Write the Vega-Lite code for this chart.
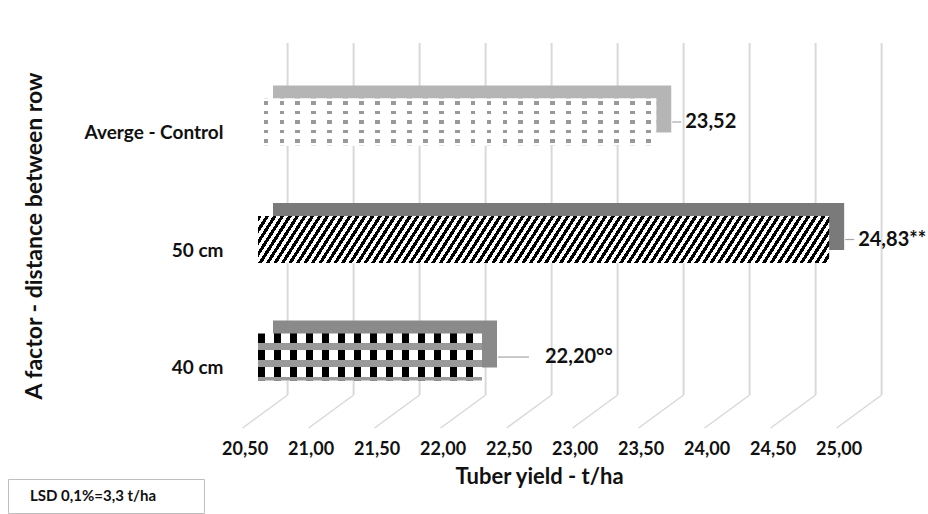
{
  "$schema": "https://vega.github.io/schema/vega-lite/v6.json",
  "width": 627,
  "height": 385,
  "autosize": "none",
  "padding": {"left": 258, "top": 43, "right": 43, "bottom": 86},
  "background": "white",
  "config": {"view": {"stroke": null}, "font": "Lato", "axis": {"labelFont": "Lato", "titleFont": "Lato"}, "legend": {"labelFont": "Lato"}},
  "resolve": {"scale": {"y": "independent"}, "axis": {"y": "independent"}},
  "layer": [
    {
      "data": {"values": [{"t": 20.5}, {"t": 21}, {"t": 21.5}, {"t": 22}, {"t": 22.5}, {"t": 23}, {"t": 23.5}, {"t": 24}, {"t": 24.5}, {"t": 25}]},
      "layer": [
        {
          "mark": {"type": "rule", "xOffset": 23, "color": "#d9d9d9", "strokeWidth": 2},
          "encoding": {
            "x": {"field": "t", "type": "quantitative", "title": "Tuber yield - t/ha",
              "scale": {"domain": [20.45, 25.2], "nice": false, "zero": false},
              "axis": {"values": [20.5, 21, 21.5, 22, 22.5, 23, 23.5, 24, 24.5, 25],
                "labelExpr": "replace(format(datum.value, '.2f'), '.', ',')",
                "labelOffset": -20, "labelPadding": 12, "labelFontSize": 18, "labelFontWeight": "bold", "labelColor": "#111",
                "labelFlush": false, "labelOverlap": false, "labelBound": false,
                "ticks": false, "domain": false, "grid": false,
                "title": "Tuber yield - t/ha", "titleFontSize": 22, "titleFontWeight": "bold", "titleColor": "#111", "titleX": 281, "titlePadding": 8}},
            "y": {"datum": 0.0857, "type": "quantitative", "scale": {"domain": [0, 1], "nice": false, "zero": false}, "axis": null},
            "y2": {"datum": 1}
          }
        },
        {
          "mark": {"type": "rule", "xOffset": -22, "x2Offset": 23, "color": "#d9d9d9", "strokeWidth": 1.5},
          "encoding": {
            "x": {"field": "t", "type": "quantitative", "title": "Tuber yield - t/ha", "scale": {"domain": [20.45, 25.2], "nice": false, "zero": false}},
            "x2": {"field": "t"},
            "y": {"datum": 0, "type": "quantitative", "scale": {"domain": [0, 1], "nice": false, "zero": false}, "axis": null},
            "y2": {"datum": 0.0857}
          }
        }
      ]
    },
    {
      "data": {"values": [
        {"cat": "Averge - Control", "value": 23.52, "label": "23,52"},
        {"cat": "50 cm", "value": 24.83, "label": "24,83**"},
        {"cat": "40 cm", "value": 22.2, "label": "22,20°°"}
      ]},
      "layer": [
        {
          "mark": {"type": "bar", "xOffset": 8, "x2Offset": 15, "yOffset": -13, "y2Offset": -13},
          "encoding": {
            "y": {"field": "cat", "type": "nominal", "sort": null, "scale": {"domain": ["Averge - Control", "50 cm", "40 cm"], "paddingInner": 0.6, "paddingOuter": 0.438, "align": 0.539},
              "axis": {"title": "A factor - distance between row", "titleFontSize": 23, "titleFontWeight": "bold", "titleColor": "#111", "titlePadding": 38,
                "labelFontSize": 19, "labelFontWeight": "bold", "labelColor": "#111", "labelPadding": 35, "labelOffset": 11, "ticks": false, "domain": false, "grid": false}},
            "x": {"field": "value", "type": "quantitative", "title": "Tuber yield - t/ha", "scale": {"domain": [20.45, 25.2], "nice": false, "zero": false}},
            "x2": {"datum": 20.45},
            "fill": {"condition": [{"test": "datum.cat === '50 cm'", "value": "#7a7a7a"}, {"test": "datum.cat === '40 cm'", "value": "#8a8a8a"}], "value": "#b5b5b5"}
          }
        },
        {
          "mark": {"type": "bar", "xOffset": -7},
          "encoding": {
            "y": {"field": "cat", "type": "nominal", "sort": null, "scale": {"domain": ["Averge - Control", "50 cm", "40 cm"], "paddingInner": 0.6, "paddingOuter": 0.438, "align": 0.539}},
            "x": {"field": "value", "type": "quantitative", "title": "Tuber yield - t/ha", "scale": {"domain": [20.45, 25.2], "nice": false, "zero": false}},
            "x2": {"datum": 20.45},
            "fill": {"condition": [
              {"test": "datum.cat === '50 cm'", "value": {"gradient": "linear", "x1": 0, "y1": 0, "x2": 1.05, "y2": 0.055, "stops": [
{"offset":0,"color":"#000"},
{"offset":0.00625,"color":"#000"},{"offset":0.00625,"color":"#fff"},{"offset":0.0125,"color":"#fff"},{"offset":0.0125,"color":"#000"},
{"offset":0.01875,"color":"#000"},{"offset":0.01875,"color":"#fff"},{"offset":0.025,"color":"#fff"},{"offset":0.025,"color":"#000"},
{"offset":0.03125,"color":"#000"},{"offset":0.03125,"color":"#fff"},{"offset":0.0375,"color":"#fff"},{"offset":0.0375,"color":"#000"},
{"offset":0.04375,"color":"#000"},{"offset":0.04375,"color":"#fff"},{"offset":0.05,"color":"#fff"},{"offset":0.05,"color":"#000"},
{"offset":0.05625,"color":"#000"},{"offset":0.05625,"color":"#fff"},{"offset":0.0625,"color":"#fff"},{"offset":0.0625,"color":"#000"},
{"offset":0.06875,"color":"#000"},{"offset":0.06875,"color":"#fff"},{"offset":0.075,"color":"#fff"},{"offset":0.075,"color":"#000"},
{"offset":0.08125,"color":"#000"},{"offset":0.08125,"color":"#fff"},{"offset":0.0875,"color":"#fff"},{"offset":0.0875,"color":"#000"},
{"offset":0.09375,"color":"#000"},{"offset":0.09375,"color":"#fff"},{"offset":0.1,"color":"#fff"},{"offset":0.1,"color":"#000"},
{"offset":0.10625,"color":"#000"},{"offset":0.10625,"color":"#fff"},{"offset":0.1125,"color":"#fff"},{"offset":0.1125,"color":"#000"},
{"offset":0.11875,"color":"#000"},{"offset":0.11875,"color":"#fff"},{"offset":0.125,"color":"#fff"},{"offset":0.125,"color":"#000"},
{"offset":0.13125,"color":"#000"},{"offset":0.13125,"color":"#fff"},{"offset":0.1375,"color":"#fff"},{"offset":0.1375,"color":"#000"},
{"offset":0.14375,"color":"#000"},{"offset":0.14375,"color":"#fff"},{"offset":0.15,"color":"#fff"},{"offset":0.15,"color":"#000"},
{"offset":0.15625,"color":"#000"},{"offset":0.15625,"color":"#fff"},{"offset":0.1625,"color":"#fff"},{"offset":0.1625,"color":"#000"},
{"offset":0.16875,"color":"#000"},{"offset":0.16875,"color":"#fff"},{"offset":0.175,"color":"#fff"},{"offset":0.175,"color":"#000"},
{"offset":0.18125,"color":"#000"},{"offset":0.18125,"color":"#fff"},{"offset":0.1875,"color":"#fff"},{"offset":0.1875,"color":"#000"},
{"offset":0.19375,"color":"#000"},{"offset":0.19375,"color":"#fff"},{"offset":0.2,"color":"#fff"},{"offset":0.2,"color":"#000"},
{"offset":0.20625,"color":"#000"},{"offset":0.20625,"color":"#fff"},{"offset":0.2125,"color":"#fff"},{"offset":0.2125,"color":"#000"},
{"offset":0.21875,"color":"#000"},{"offset":0.21875,"color":"#fff"},{"offset":0.225,"color":"#fff"},{"offset":0.225,"color":"#000"},
{"offset":0.23125,"color":"#000"},{"offset":0.23125,"color":"#fff"},{"offset":0.2375,"color":"#fff"},{"offset":0.2375,"color":"#000"},
{"offset":0.24375,"color":"#000"},{"offset":0.24375,"color":"#fff"},{"offset":0.25,"color":"#fff"},{"offset":0.25,"color":"#000"},
{"offset":0.25625,"color":"#000"},{"offset":0.25625,"color":"#fff"},{"offset":0.2625,"color":"#fff"},{"offset":0.2625,"color":"#000"},
{"offset":0.26875,"color":"#000"},{"offset":0.26875,"color":"#fff"},{"offset":0.275,"color":"#fff"},{"offset":0.275,"color":"#000"},
{"offset":0.28125,"color":"#000"},{"offset":0.28125,"color":"#fff"},{"offset":0.2875,"color":"#fff"},{"offset":0.2875,"color":"#000"},
{"offset":0.29375,"color":"#000"},{"offset":0.29375,"color":"#fff"},{"offset":0.3,"color":"#fff"},{"offset":0.3,"color":"#000"},
{"offset":0.30625,"color":"#000"},{"offset":0.30625,"color":"#fff"},{"offset":0.3125,"color":"#fff"},{"offset":0.3125,"color":"#000"},
{"offset":0.31875,"color":"#000"},{"offset":0.31875,"color":"#fff"},{"offset":0.325,"color":"#fff"},{"offset":0.325,"color":"#000"},
{"offset":0.33125,"color":"#000"},{"offset":0.33125,"color":"#fff"},{"offset":0.3375,"color":"#fff"},{"offset":0.3375,"color":"#000"},
{"offset":0.34375,"color":"#000"},{"offset":0.34375,"color":"#fff"},{"offset":0.35,"color":"#fff"},{"offset":0.35,"color":"#000"},
{"offset":0.35625,"color":"#000"},{"offset":0.35625,"color":"#fff"},{"offset":0.3625,"color":"#fff"},{"offset":0.3625,"color":"#000"},
{"offset":0.36875,"color":"#000"},{"offset":0.36875,"color":"#fff"},{"offset":0.375,"color":"#fff"},{"offset":0.375,"color":"#000"},
{"offset":0.38125,"color":"#000"},{"offset":0.38125,"color":"#fff"},{"offset":0.3875,"color":"#fff"},{"offset":0.3875,"color":"#000"},
{"offset":0.39375,"color":"#000"},{"offset":0.39375,"color":"#fff"},{"offset":0.4,"color":"#fff"},{"offset":0.4,"color":"#000"},
{"offset":0.40625,"color":"#000"},{"offset":0.40625,"color":"#fff"},{"offset":0.4125,"color":"#fff"},{"offset":0.4125,"color":"#000"},
{"offset":0.41875,"color":"#000"},{"offset":0.41875,"color":"#fff"},{"offset":0.425,"color":"#fff"},{"offset":0.425,"color":"#000"},
{"offset":0.43125,"color":"#000"},{"offset":0.43125,"color":"#fff"},{"offset":0.4375,"color":"#fff"},{"offset":0.4375,"color":"#000"},
{"offset":0.44375,"color":"#000"},{"offset":0.44375,"color":"#fff"},{"offset":0.45,"color":"#fff"},{"offset":0.45,"color":"#000"},
{"offset":0.45625,"color":"#000"},{"offset":0.45625,"color":"#fff"},{"offset":0.4625,"color":"#fff"},{"offset":0.4625,"color":"#000"},
{"offset":0.46875,"color":"#000"},{"offset":0.46875,"color":"#fff"},{"offset":0.475,"color":"#fff"},{"offset":0.475,"color":"#000"},
{"offset":0.48125,"color":"#000"},{"offset":0.48125,"color":"#fff"},{"offset":0.4875,"color":"#fff"},{"offset":0.4875,"color":"#000"},
{"offset":0.49375,"color":"#000"},{"offset":0.49375,"color":"#fff"},{"offset":0.5,"color":"#fff"},{"offset":0.5,"color":"#000"},
{"offset":0.50625,"color":"#000"},{"offset":0.50625,"color":"#fff"},{"offset":0.5125,"color":"#fff"},{"offset":0.5125,"color":"#000"},
{"offset":0.51875,"color":"#000"},{"offset":0.51875,"color":"#fff"},{"offset":0.525,"color":"#fff"},{"offset":0.525,"color":"#000"},
{"offset":0.53125,"color":"#000"},{"offset":0.53125,"color":"#fff"},{"offset":0.5375,"color":"#fff"},{"offset":0.5375,"color":"#000"},
{"offset":0.54375,"color":"#000"},{"offset":0.54375,"color":"#fff"},{"offset":0.55,"color":"#fff"},{"offset":0.55,"color":"#000"},
{"offset":0.55625,"color":"#000"},{"offset":0.55625,"color":"#fff"},{"offset":0.5625,"color":"#fff"},{"offset":0.5625,"color":"#000"},
{"offset":0.56875,"color":"#000"},{"offset":0.56875,"color":"#fff"},{"offset":0.575,"color":"#fff"},{"offset":0.575,"color":"#000"},
{"offset":0.58125,"color":"#000"},{"offset":0.58125,"color":"#fff"},{"offset":0.5875,"color":"#fff"},{"offset":0.5875,"color":"#000"},
{"offset":0.59375,"color":"#000"},{"offset":0.59375,"color":"#fff"},{"offset":0.6,"color":"#fff"},{"offset":0.6,"color":"#000"},
{"offset":0.60625,"color":"#000"},{"offset":0.60625,"color":"#fff"},{"offset":0.6125,"color":"#fff"},{"offset":0.6125,"color":"#000"},
{"offset":0.61875,"color":"#000"},{"offset":0.61875,"color":"#fff"},{"offset":0.625,"color":"#fff"},{"offset":0.625,"color":"#000"},
{"offset":0.63125,"color":"#000"},{"offset":0.63125,"color":"#fff"},{"offset":0.6375,"color":"#fff"},{"offset":0.6375,"color":"#000"},
{"offset":0.64375,"color":"#000"},{"offset":0.64375,"color":"#fff"},{"offset":0.65,"color":"#fff"},{"offset":0.65,"color":"#000"},
{"offset":0.65625,"color":"#000"},{"offset":0.65625,"color":"#fff"},{"offset":0.6625,"color":"#fff"},{"offset":0.6625,"color":"#000"},
{"offset":0.66875,"color":"#000"},{"offset":0.66875,"color":"#fff"},{"offset":0.675,"color":"#fff"},{"offset":0.675,"color":"#000"},
{"offset":0.68125,"color":"#000"},{"offset":0.68125,"color":"#fff"},{"offset":0.6875,"color":"#fff"},{"offset":0.6875,"color":"#000"},
{"offset":0.69375,"color":"#000"},{"offset":0.69375,"color":"#fff"},{"offset":0.7,"color":"#fff"},{"offset":0.7,"color":"#000"},
{"offset":0.70625,"color":"#000"},{"offset":0.70625,"color":"#fff"},{"offset":0.7125,"color":"#fff"},{"offset":0.7125,"color":"#000"},
{"offset":0.71875,"color":"#000"},{"offset":0.71875,"color":"#fff"},{"offset":0.725,"color":"#fff"},{"offset":0.725,"color":"#000"},
{"offset":0.73125,"color":"#000"},{"offset":0.73125,"color":"#fff"},{"offset":0.7375,"color":"#fff"},{"offset":0.7375,"color":"#000"},
{"offset":0.74375,"color":"#000"},{"offset":0.74375,"color":"#fff"},{"offset":0.75,"color":"#fff"},{"offset":0.75,"color":"#000"},
{"offset":0.75625,"color":"#000"},{"offset":0.75625,"color":"#fff"},{"offset":0.7625,"color":"#fff"},{"offset":0.7625,"color":"#000"},
{"offset":0.76875,"color":"#000"},{"offset":0.76875,"color":"#fff"},{"offset":0.775,"color":"#fff"},{"offset":0.775,"color":"#000"},
{"offset":0.78125,"color":"#000"},{"offset":0.78125,"color":"#fff"},{"offset":0.7875,"color":"#fff"},{"offset":0.7875,"color":"#000"},
{"offset":0.79375,"color":"#000"},{"offset":0.79375,"color":"#fff"},{"offset":0.8,"color":"#fff"},{"offset":0.8,"color":"#000"},
{"offset":0.80625,"color":"#000"},{"offset":0.80625,"color":"#fff"},{"offset":0.8125,"color":"#fff"},{"offset":0.8125,"color":"#000"},
{"offset":0.81875,"color":"#000"},{"offset":0.81875,"color":"#fff"},{"offset":0.825,"color":"#fff"},{"offset":0.825,"color":"#000"},
{"offset":0.83125,"color":"#000"},{"offset":0.83125,"color":"#fff"},{"offset":0.8375,"color":"#fff"},{"offset":0.8375,"color":"#000"},
{"offset":0.84375,"color":"#000"},{"offset":0.84375,"color":"#fff"},{"offset":0.85,"color":"#fff"},{"offset":0.85,"color":"#000"},
{"offset":0.85625,"color":"#000"},{"offset":0.85625,"color":"#fff"},{"offset":0.8625,"color":"#fff"},{"offset":0.8625,"color":"#000"},
{"offset":0.86875,"color":"#000"},{"offset":0.86875,"color":"#fff"},{"offset":0.875,"color":"#fff"},{"offset":0.875,"color":"#000"},
{"offset":0.88125,"color":"#000"},{"offset":0.88125,"color":"#fff"},{"offset":0.8875,"color":"#fff"},{"offset":0.8875,"color":"#000"},
{"offset":0.89375,"color":"#000"},{"offset":0.89375,"color":"#fff"},{"offset":0.9,"color":"#fff"},{"offset":0.9,"color":"#000"},
{"offset":0.90625,"color":"#000"},{"offset":0.90625,"color":"#fff"},{"offset":0.9125,"color":"#fff"},{"offset":0.9125,"color":"#000"},
{"offset":0.91875,"color":"#000"},{"offset":0.91875,"color":"#fff"},{"offset":0.925,"color":"#fff"},{"offset":0.925,"color":"#000"},
{"offset":0.93125,"color":"#000"},{"offset":0.93125,"color":"#fff"},{"offset":0.9375,"color":"#fff"},{"offset":0.9375,"color":"#000"},
{"offset":0.94375,"color":"#000"},{"offset":0.94375,"color":"#fff"},{"offset":0.95,"color":"#fff"},{"offset":0.95,"color":"#000"},
{"offset":0.95625,"color":"#000"},{"offset":0.95625,"color":"#fff"},{"offset":0.9625,"color":"#fff"},{"offset":0.9625,"color":"#000"},
{"offset":0.96875,"color":"#000"},{"offset":0.96875,"color":"#fff"},{"offset":0.975,"color":"#fff"},{"offset":0.975,"color":"#000"},
{"offset":0.98125,"color":"#000"},{"offset":0.98125,"color":"#fff"},{"offset":0.9875,"color":"#fff"},{"offset":0.9875,"color":"#000"},
{"offset":0.99375,"color":"#000"},{"offset":0.99375,"color":"#fff"},{"offset":1,"color":"#fff"}
              ]}},
              {"test": "datum.cat === '40 cm'", "value": {"gradient": "linear", "x1": 0, "y1": 0, "x2": 1, "y2": 0, "stops": [
{"offset":0,"color":"#000"},{"offset":0.0321,"color":"#000"},{"offset":0.0321,"color":"#fff"},{"offset":0.0714,"color":"#fff"},
{"offset":0.0714,"color":"#000"},{"offset":0.1036,"color":"#000"},{"offset":0.1036,"color":"#fff"},{"offset":0.1429,"color":"#fff"},
{"offset":0.1429,"color":"#000"},{"offset":0.175,"color":"#000"},{"offset":0.175,"color":"#fff"},{"offset":0.2143,"color":"#fff"},
{"offset":0.2143,"color":"#000"},{"offset":0.2464,"color":"#000"},{"offset":0.2464,"color":"#fff"},{"offset":0.2857,"color":"#fff"},
{"offset":0.2857,"color":"#000"},{"offset":0.3179,"color":"#000"},{"offset":0.3179,"color":"#fff"},{"offset":0.3571,"color":"#fff"},
{"offset":0.3571,"color":"#000"},{"offset":0.3893,"color":"#000"},{"offset":0.3893,"color":"#fff"},{"offset":0.4286,"color":"#fff"},
{"offset":0.4286,"color":"#000"},{"offset":0.4607,"color":"#000"},{"offset":0.4607,"color":"#fff"},{"offset":0.5,"color":"#fff"},
{"offset":0.5,"color":"#000"},{"offset":0.5321,"color":"#000"},{"offset":0.5321,"color":"#fff"},{"offset":0.5714,"color":"#fff"},
{"offset":0.5714,"color":"#000"},{"offset":0.6036,"color":"#000"},{"offset":0.6036,"color":"#fff"},{"offset":0.6429,"color":"#fff"},
{"offset":0.6429,"color":"#000"},{"offset":0.675,"color":"#000"},{"offset":0.675,"color":"#fff"},{"offset":0.7143,"color":"#fff"},
{"offset":0.7143,"color":"#000"},{"offset":0.7464,"color":"#000"},{"offset":0.7464,"color":"#fff"},{"offset":0.7857,"color":"#fff"},
{"offset":0.7857,"color":"#000"},{"offset":0.8179,"color":"#000"},{"offset":0.8179,"color":"#fff"},{"offset":0.8571,"color":"#fff"},
{"offset":0.8571,"color":"#000"},{"offset":0.8893,"color":"#000"},{"offset":0.8893,"color":"#fff"},{"offset":0.9286,"color":"#fff"},
{"offset":0.9286,"color":"#000"},{"offset":0.9607,"color":"#000"},{"offset":0.9607,"color":"#fff"},{"offset":1,"color":"#fff"}
              ]}}
            ],
            "value": {"gradient": "linear", "x1": 0, "y1": 0, "x2": 1, "y2": 0, "stops": [
{"offset":0,"color":"#fff"},
{"offset":0.014,"color":"#fff"},{"offset":0.014,"color":"#999"},{"offset":0.026,"color":"#999"},{"offset":0.026,"color":"#fff"},
{"offset":0.054,"color":"#fff"},{"offset":0.054,"color":"#999"},{"offset":0.066,"color":"#999"},{"offset":0.066,"color":"#fff"},
{"offset":0.094,"color":"#fff"},{"offset":0.094,"color":"#999"},{"offset":0.106,"color":"#999"},{"offset":0.106,"color":"#fff"},
{"offset":0.134,"color":"#fff"},{"offset":0.134,"color":"#999"},{"offset":0.146,"color":"#999"},{"offset":0.146,"color":"#fff"},
{"offset":0.174,"color":"#fff"},{"offset":0.174,"color":"#999"},{"offset":0.186,"color":"#999"},{"offset":0.186,"color":"#fff"},
{"offset":0.214,"color":"#fff"},{"offset":0.214,"color":"#999"},{"offset":0.226,"color":"#999"},{"offset":0.226,"color":"#fff"},
{"offset":0.254,"color":"#fff"},{"offset":0.254,"color":"#999"},{"offset":0.266,"color":"#999"},{"offset":0.266,"color":"#fff"},
{"offset":0.294,"color":"#fff"},{"offset":0.294,"color":"#999"},{"offset":0.306,"color":"#999"},{"offset":0.306,"color":"#fff"},
{"offset":0.334,"color":"#fff"},{"offset":0.334,"color":"#999"},{"offset":0.346,"color":"#999"},{"offset":0.346,"color":"#fff"},
{"offset":0.374,"color":"#fff"},{"offset":0.374,"color":"#999"},{"offset":0.386,"color":"#999"},{"offset":0.386,"color":"#fff"},
{"offset":0.414,"color":"#fff"},{"offset":0.414,"color":"#999"},{"offset":0.426,"color":"#999"},{"offset":0.426,"color":"#fff"},
{"offset":0.454,"color":"#fff"},{"offset":0.454,"color":"#999"},{"offset":0.466,"color":"#999"},{"offset":0.466,"color":"#fff"},
{"offset":0.494,"color":"#fff"},{"offset":0.494,"color":"#999"},{"offset":0.506,"color":"#999"},{"offset":0.506,"color":"#fff"},
{"offset":0.534,"color":"#fff"},{"offset":0.534,"color":"#999"},{"offset":0.546,"color":"#999"},{"offset":0.546,"color":"#fff"},
{"offset":0.574,"color":"#fff"},{"offset":0.574,"color":"#999"},{"offset":0.586,"color":"#999"},{"offset":0.586,"color":"#fff"},
{"offset":0.614,"color":"#fff"},{"offset":0.614,"color":"#999"},{"offset":0.626,"color":"#999"},{"offset":0.626,"color":"#fff"},
{"offset":0.654,"color":"#fff"},{"offset":0.654,"color":"#999"},{"offset":0.666,"color":"#999"},{"offset":0.666,"color":"#fff"},
{"offset":0.694,"color":"#fff"},{"offset":0.694,"color":"#999"},{"offset":0.706,"color":"#999"},{"offset":0.706,"color":"#fff"},
{"offset":0.734,"color":"#fff"},{"offset":0.734,"color":"#999"},{"offset":0.746,"color":"#999"},{"offset":0.746,"color":"#fff"},
{"offset":0.774,"color":"#fff"},{"offset":0.774,"color":"#999"},{"offset":0.786,"color":"#999"},{"offset":0.786,"color":"#fff"},
{"offset":0.814,"color":"#fff"},{"offset":0.814,"color":"#999"},{"offset":0.826,"color":"#999"},{"offset":0.826,"color":"#fff"},
{"offset":0.854,"color":"#fff"},{"offset":0.854,"color":"#999"},{"offset":0.866,"color":"#999"},{"offset":0.866,"color":"#fff"},
{"offset":0.894,"color":"#fff"},{"offset":0.894,"color":"#999"},{"offset":0.906,"color":"#999"},{"offset":0.906,"color":"#fff"},
{"offset":0.934,"color":"#fff"},{"offset":0.934,"color":"#999"},{"offset":0.946,"color":"#999"},{"offset":0.946,"color":"#fff"},
{"offset":0.974,"color":"#fff"},{"offset":0.974,"color":"#999"},{"offset":0.986,"color":"#999"},{"offset":0.986,"color":"#fff"},
{"offset":1,"color":"#fff"}
            ]}}
          }
        },
        {
          "mark": {"type": "bar", "xOffset": -7},
          "encoding": {
            "y": {"field": "cat", "type": "nominal", "sort": null, "scale": {"domain": ["Averge - Control", "50 cm", "40 cm"], "paddingInner": 0.6, "paddingOuter": 0.438, "align": 0.539}},
            "x": {"field": "value", "type": "quantitative", "title": "Tuber yield - t/ha", "scale": {"domain": [20.45, 25.2], "nice": false, "zero": false}},
            "x2": {"datum": 20.45},
            "fill": {"condition": [
              {"test": "datum.cat === '50 cm'", "value": "transparent"},
              {"test": "datum.cat === '40 cm'", "value": {"gradient": "linear", "x1": 0, "y1": 0, "x2": 0, "y2": 1, "stops": [
{"offset":0,"color":"rgba(153,153,153,0)"},{"offset":0.21,"color":"rgba(153,153,153,0)"},{"offset":0.21,"color":"#999"},{"offset":0.36,"color":"#999"},
{"offset":0.36,"color":"rgba(153,153,153,0)"},{"offset":0.57,"color":"rgba(153,153,153,0)"},{"offset":0.57,"color":"#999"},{"offset":0.72,"color":"#999"},
{"offset":0.72,"color":"rgba(153,153,153,0)"},{"offset":0.93,"color":"rgba(153,153,153,0)"},{"offset":0.93,"color":"#999"},{"offset":1,"color":"#999"}
              ]}}
            ],
            "value": {"gradient": "linear", "x1": 0, "y1": 0, "x2": 0, "y2": 1, "stops": [
{"offset":0,"color":"#fff"},{"offset":0.06,"color":"#fff"},{"offset":0.06,"color":"rgba(255,255,255,0)"},{"offset":0.14,"color":"rgba(255,255,255,0)"},
{"offset":0.14,"color":"#fff"},{"offset":0.26,"color":"#fff"},{"offset":0.26,"color":"rgba(255,255,255,0)"},{"offset":0.34,"color":"rgba(255,255,255,0)"},
{"offset":0.34,"color":"#fff"},{"offset":0.46,"color":"#fff"},{"offset":0.46,"color":"rgba(255,255,255,0)"},{"offset":0.54,"color":"rgba(255,255,255,0)"},
{"offset":0.54,"color":"#fff"},{"offset":0.66,"color":"#fff"},{"offset":0.66,"color":"rgba(255,255,255,0)"},{"offset":0.74,"color":"rgba(255,255,255,0)"},
{"offset":0.74,"color":"#fff"},{"offset":0.86,"color":"#fff"},{"offset":0.86,"color":"rgba(255,255,255,0)"},{"offset":0.94,"color":"rgba(255,255,255,0)"},
{"offset":0.94,"color":"#fff"},{"offset":1,"color":"#fff"}
            ]}}
          }
        },
        {
          "transform": [{"filter": "datum.cat !== '40 cm'"}],
          "mark": {"type": "rule", "xOffset": 9, "x2Offset": 18, "strokeWidth": 1.2},
          "encoding": {
            "y": {"field": "cat", "type": "nominal", "sort": null, "scale": {"domain": ["Averge - Control", "50 cm", "40 cm"], "paddingInner": 0.6, "paddingOuter": 0.438, "align": 0.539}},
            "x": {"field": "value", "type": "quantitative", "title": "Tuber yield - t/ha", "scale": {"domain": [20.45, 25.2], "nice": false, "zero": false}},
            "x2": {"field": "value"},
            "color": {"datum": "LSD 0,1%=3,3 t/ha", "type": "nominal", "scale": {"domain": ["LSD 0,1%=3,3 t/ha", "·"], "range": ["#a6a6a6", "#a6a6a6"]},
              "legend": {"title": null, "orient": "none", "direction": "horizontal", "columns": 2, "columnPadding": 20, "legendX": -250, "legendY": 436,
                "symbolSize": 0, "symbolOpacity": 0, "symbolStrokeWidth": 0,
                "labelFontSize": 15, "labelFontWeight": "bold", "labelColor": {"expr": "datum.index === 0 ? '#111' : 'white'"}, "labelOffset": -2, "labelLimit": 400, "padding": 9,
                "strokeColor": "#bfbfbf", "fillColor": "white"}}
          }
        },
        {
          "transform": [{"filter": "datum.cat === '40 cm'"}],
          "mark": {"type": "rule", "xOffset": 9, "x2Offset": 40, "strokeWidth": 1.2, "color": "#a6a6a6"},
          "encoding": {
            "y": {"field": "cat", "type": "nominal", "sort": null, "scale": {"domain": ["Averge - Control", "50 cm", "40 cm"], "paddingInner": 0.6, "paddingOuter": 0.438, "align": 0.539}},
            "x": {"field": "value", "type": "quantitative", "title": "Tuber yield - t/ha", "scale": {"domain": [20.45, 25.2], "nice": false, "zero": false}},
            "x2": {"field": "value"}
          }
        },
        {
          "transform": [{"filter": "datum.cat !== '40 cm'"}],
          "mark": {"type": "text", "dx": 22, "align": "left", "baseline": "middle", "fontSize": 20, "fontWeight": "bold", "color": "#111"},
          "encoding": {
            "y": {"field": "cat", "type": "nominal", "sort": null, "scale": {"domain": ["Averge - Control", "50 cm", "40 cm"], "paddingInner": 0.6, "paddingOuter": 0.438, "align": 0.539}},
            "x": {"field": "value", "type": "quantitative", "title": "Tuber yield - t/ha", "scale": {"domain": [20.45, 25.2], "nice": false, "zero": false}},
            "text": {"field": "label"}
          }
        },
        {
          "transform": [{"filter": "datum.cat === '40 cm'"}],
          "mark": {"type": "text", "dx": 56, "align": "left", "baseline": "middle", "fontSize": 20, "fontWeight": "bold", "color": "#111"},
          "encoding": {
            "y": {"field": "cat", "type": "nominal", "sort": null, "scale": {"domain": ["Averge - Control", "50 cm", "40 cm"], "paddingInner": 0.6, "paddingOuter": 0.438, "align": 0.539}},
            "x": {"field": "value", "type": "quantitative", "title": "Tuber yield - t/ha", "scale": {"domain": [20.45, 25.2], "nice": false, "zero": false}},
            "text": {"field": "label"}
          }
        }
      ]
    }
  ]
}
